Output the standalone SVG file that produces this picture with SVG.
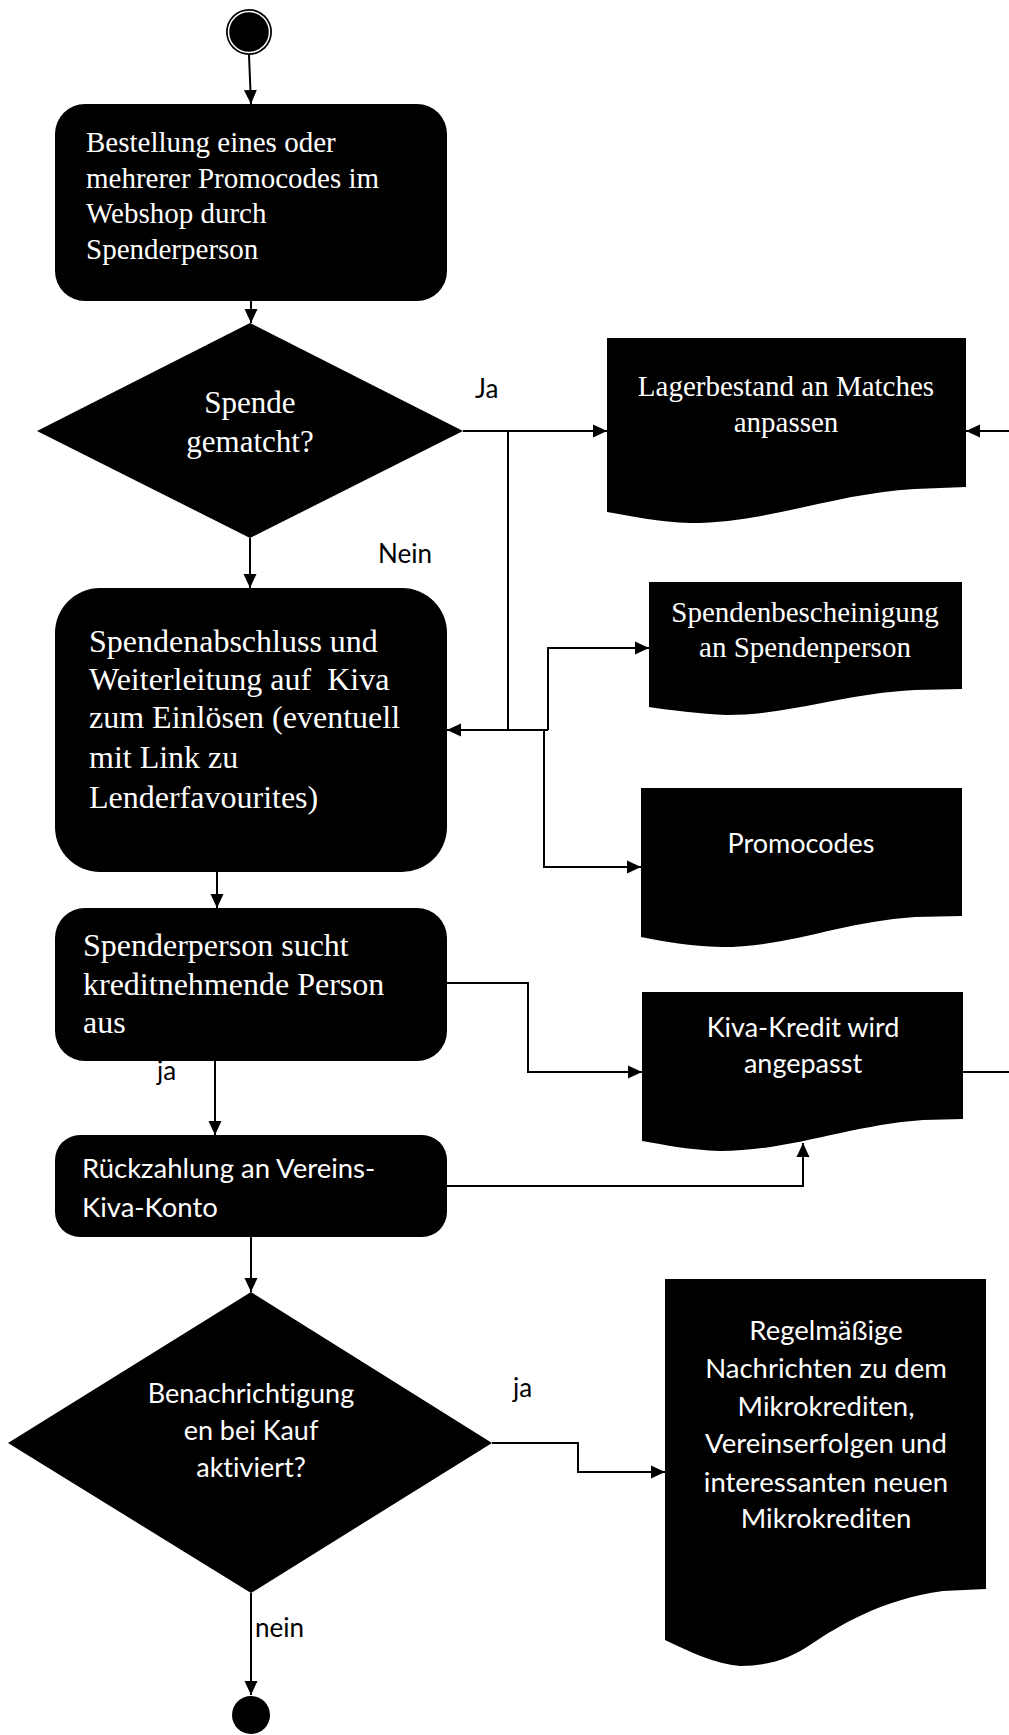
<svg xmlns="http://www.w3.org/2000/svg" width="1009" height="1735" viewBox="0 0 1009 1735">
<defs>
<marker id="ah" markerUnits="userSpaceOnUse" markerWidth="15" markerHeight="14" refX="14" refY="7" orient="auto">
<path d="M0,0.5 L14,7 L0,13.5 Z" fill="#000"/>
</marker>
<style>
.node{fill:#000;stroke:none}
.serif{font-family:"Liberation Serif","Times New Roman",serif;fill:#fff}
.sans{font-family:Lato,"Open Sans",sans-serif;fill:#fff;font-variant-ligatures:none}
.lbl{font-family:Lato,"Open Sans",sans-serif;fill:#000;font-size:26px}
.c{text-anchor:middle}
.conn path{fill:none;stroke:#000;stroke-width:2}
.arr{marker-end:url(#ah)}
</style>
</defs>
<rect width="1009" height="1735" fill="#fff"/>

<g class="conn" id="connectors">
<path class="arr" d="M249 55 L251 104"/>
<path class="arr" d="M251 301 V323"/>
<path class="arr" d="M250 538 V588"/>
<path class="arr" d="M463 431 H607"/>
<path d="M508 431 V730"/>
<path class="arr" d="M548 730 H447"/>
<path class="arr" d="M548 730 V648 H649"/>
<path class="arr" d="M544 730 V867 H641"/>
<path class="arr" d="M217 872 V908"/>
<path class="arr" d="M447 983 H528 V1072 H642"/>
<path class="arr" d="M215 1061 V1135"/>
<path class="arr" d="M447 1186 H803 V1143"/>
<path class="arr" d="M963 1072 H1020 V431 H966"/>
<path class="arr" d="M251 1237 V1292"/>
<path class="arr" d="M492 1443 H578 V1472 H665"/>
<path class="arr" d="M251 1593 V1695"/>
</g>

<g id="start">
<circle cx="249" cy="32" r="23" fill="#000"/>
<circle cx="249" cy="32" r="20.5" fill="#000" stroke="#fff" stroke-width="1.5"/>
</g>

<g id="bestellung">
<rect class="node" x="55" y="104" width="392" height="197" rx="30"/>
<text class="serif" font-size="29"><tspan x="86" y="152">Bestellung eines oder</tspan><tspan x="86" y="188">mehrerer Promocodes im</tspan><tspan x="86" y="223">Webshop durch</tspan><tspan x="86" y="259">Spenderperson</tspan></text>
</g>

<g id="spende-gematcht">
<path class="node" d="M250 323 L463 431 L250 538 L37 431 Z"/>
<text class="serif c" font-size="31"><tspan x="250" y="413">Spende</tspan><tspan x="250" y="452">gematcht?</tspan></text>
</g>

<g id="lagerbestand">
<path class="node" d="M607 338 H966 V487 L915 489 C830 494 770 523 690 523 C660 522 630 516 607 512 Z"/>
<text class="serif c" font-size="29"><tspan x="786" y="396">Lagerbestand an Matches</tspan><tspan x="786" y="432">anpassen</tspan></text>
</g>

<g id="spendenabschluss">
<rect class="node" x="55" y="588" width="392" height="284" rx="45"/>
<text class="serif" font-size="32" xml:space="preserve" style="white-space:pre"><tspan x="89" y="652">Spendenabschluss und</tspan><tspan x="89" y="690">Weiterleitung auf  Kiva</tspan><tspan x="89" y="728">zum Einlösen (eventuell</tspan><tspan x="89" y="768">mit Link zu</tspan><tspan x="89" y="808">Lenderfavourites)</tspan></text>
</g>

<g id="spendenbescheinigung">
<path class="node" d="M649 582 H962 V689 L915 690 C840 694 790 715 727 715 C700 714 670 710 649 707 Z"/>
<text class="serif c" font-size="29"><tspan x="805" y="622">Spendenbescheinigung</tspan><tspan x="805" y="657">an Spendenperson</tspan></text>
</g>

<g id="promocodes">
<path class="node" d="M641 788 H962 V916 L915 917 C840 922 790 947 721 947 C690 946 665 942 641 937 Z"/>
<text class="sans c" font-size="27" x="801" y="853">Promocodes</text>
</g>

<g id="spenderperson-sucht">
<rect class="node" x="55" y="908" width="392" height="153" rx="30"/>
<text class="serif" font-size="32"><tspan x="83" y="956">Spenderperson sucht</tspan><tspan x="83" y="995">kreditnehmende Person</tspan><tspan x="83" y="1033">aus</tspan></text>
</g>

<g id="kiva-kredit">
<path class="node" d="M642 992 H963 V1119 L923 1120 C850 1125 790 1151 720 1151 C690 1150 665 1145 642 1141 Z"/>
<text class="sans c" font-size="27"><tspan x="803" y="1037">Kiva-Kredit wird</tspan><tspan x="803" y="1073">angepasst</tspan></text>
</g>

<g id="rueckzahlung">
<rect class="node" x="55" y="1135" width="392" height="102" rx="25"/>
<text class="sans" font-size="27.5"><tspan x="82" y="1178">Rückzahlung an Vereins-</tspan><tspan x="82" y="1217">Kiva-Konto</tspan></text>
</g>

<g id="benachrichtigungen">
<path class="node" d="M251 1292 L492 1443 L251 1593 L8 1443 Z"/>
<text class="sans c" font-size="27"><tspan x="251" y="1403">Benachrichtigung</tspan><tspan x="251" y="1440">en bei Kauf</tspan><tspan x="251" y="1477">aktiviert?</tspan></text>
</g>

<g id="nachrichten">
<path class="node" d="M665 1279 H986 V1589 L943 1591 C880 1600 840 1625 810 1645 C790 1658 770 1666 740 1666 C715 1664 690 1652 665 1640 Z"/>
<text class="sans c" font-size="27.5"><tspan x="826" y="1340">Regelmäßige</tspan><tspan x="826" y="1378">Nachrichten zu dem</tspan><tspan x="826" y="1416">Mikrokrediten,</tspan><tspan x="826" y="1453">Vereinserfolgen und</tspan><tspan x="826" y="1492">interessanten neuen</tspan><tspan x="826" y="1528">Mikrokrediten</tspan></text>
</g>

<g id="end">
<circle cx="251" cy="1715" r="19" fill="#000"/>
</g>

<g id="labels">
<text class="lbl" x="475" y="398">Ja</text>
<text class="lbl" x="378" y="563">Nein</text>
<text class="lbl" x="157" y="1080">ja</text>
<text class="lbl" x="513" y="1397">ja</text>
<text class="lbl" x="255" y="1637">nein</text>
</g>
</svg>
